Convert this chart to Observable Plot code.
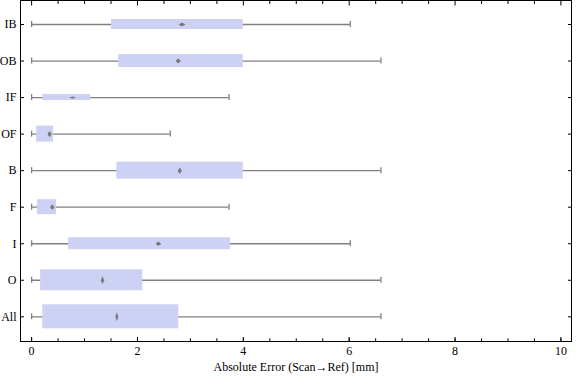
<!DOCTYPE html>
<html><head><meta charset="utf-8">
<script src="https://cdn.jsdelivr.net/npm/d3@7"></script>
<script src="https://cdn.jsdelivr.net/npm/@observablehq/plot@0.6"></script>
<style>body{margin:0;background:#fff}</style>
</head><body><div id="chart"></div>
<script>
// categories listed bottom to top
const categories = ["All","O","I","F","B","OF","IF","OB","IB"];
const whiskerMin = [0,0,0,0,0,0,0,0,0];
const q1 =        [0.21,0.17,0.70,0.11,1.61,0.095,0.21,1.645,1.51];
const median =    [1.61,1.34,2.395,0.39,2.80,0.34,0.775,2.77,2.84];
const q3 =        [2.78,2.10,3.76,0.47,4.00,0.415,1.115,4.00,4.00];
const whiskerMax =[6.60,6.60,6.02,3.73,6.60,2.62,3.73,6.60,6.02];
const sampleSize =[576,441,144,225,289,256,36,169,100];
const xTicks = [0,2,4,6,8,10];
const xMinorTicks = d3.range(0, 10.01, 0.5);
const xLabel = "Absolute Error (Scan\u2192Ref) [mm]";

const yDomain = [-0.676, 8.657];
const pxPerY = 341 / (yDomain[1] - yDomain[0]);
const xDomain = [-0.21, 10.2];
const pxPerX = 551 / (xDomain[1] - xDomain[0]);

const rows = categories.map((c, i) => {
  const hpx = Math.sqrt(sampleSize[i]);
  const half = hpx / 2 / pxPerY;
  return {c, i, lo: whiskerMin[i], q1: q1[i], med: median[i], q3: q3[i], hi: whiskerMax[i], half, hpx};
});
const capHalf = 3 / pxPerY;
const caps = rows.flatMap(r => [{x: r.lo, i: r.i}, {x: r.hi, i: r.i}]);
const diamonds = rows.flatMap(r => {
  const hh = 0.19 * r.hpx;
  const w = Math.min(7, Math.max(3, 26 / (2 * hh)));
  const dx = w / 2 / pxPerX, dy = hh / pxPerY;
  return [
    {c: r.c, x: r.med - dx, y: r.i},
    {c: r.c, x: r.med, y: r.i + dy},
    {c: r.c, x: r.med + dx, y: r.i},
    {c: r.c, x: r.med, y: r.i - dy}
  ];
});
const topTicks = xMinorTicks.map(v => ({x: v, top: yDomain[1], bot: yDomain[1] - (xTicks.includes(v) ? 5 : 3.5) / pxPerY}));

const whiskerColor = "#808080";
const chart = Plot.plot({
  width: 576, height: 381,
  marginLeft: 20, marginRight: 5, marginTop: 0, marginBottom: 40,
  style: {fontFamily: "'Liberation Serif', 'Times New Roman', serif", fontSize: "12px", color: "black", background: "white"},
  x: {domain: xDomain},
  y: {domain: yDomain},
  marks: [
    Plot.ruleY(rows, {y: "i", x1: "lo", x2: "hi", stroke: whiskerColor, strokeWidth: 1.3}),
    Plot.ruleX(caps, {x: "x", y1: d => d.i - capHalf, y2: d => d.i + capHalf, stroke: whiskerColor, strokeWidth: 1.3}),
    Plot.rect(rows, {x1: "q1", x2: "q3", y1: d => d.i - d.half, y2: d => d.i + d.half, fill: "#cdd2f5"}),
    Plot.line(diamonds, {x: "x", y: "y", z: "c", curve: "linear-closed", fill: "#787878", stroke: "none"}),
    Plot.frame({stroke: "black", strokeWidth: 1}),
    Plot.axisX({anchor: "bottom", ticks: xMinorTicks, tickSize: -2.7, tickFormat: () => "", label: null}),
    Plot.axisX({anchor: "bottom", ticks: xTicks, tickSize: -4, tickFormat: () => "", label: null}),
    Plot.link(topTicks, {x1: "x", x2: "x", y1: "top", y2: "bot", stroke: "black", strokeWidth: 1}),
    Plot.axisX({anchor: "bottom", ticks: xTicks, tickSize: 0, tickPadding: 5, tickFormat: d3.format("d"), label: null}),
    Plot.axisY({anchor: "left", ticks: rows.map(r => r.i), tickSize: -4, tickPadding: 8, tickFormat: i => categories[i], label: null}),
    Plot.axisY({anchor: "right", ticks: rows.map(r => r.i), tickSize: -4, tickFormat: () => "", label: null}),
    Plot.text([xLabel], {frameAnchor: "bottom", dy: 29, text: d => d, fontSize: 12})
  ]
});
document.getElementById("chart").appendChild(chart);
</script>
</body></html>
